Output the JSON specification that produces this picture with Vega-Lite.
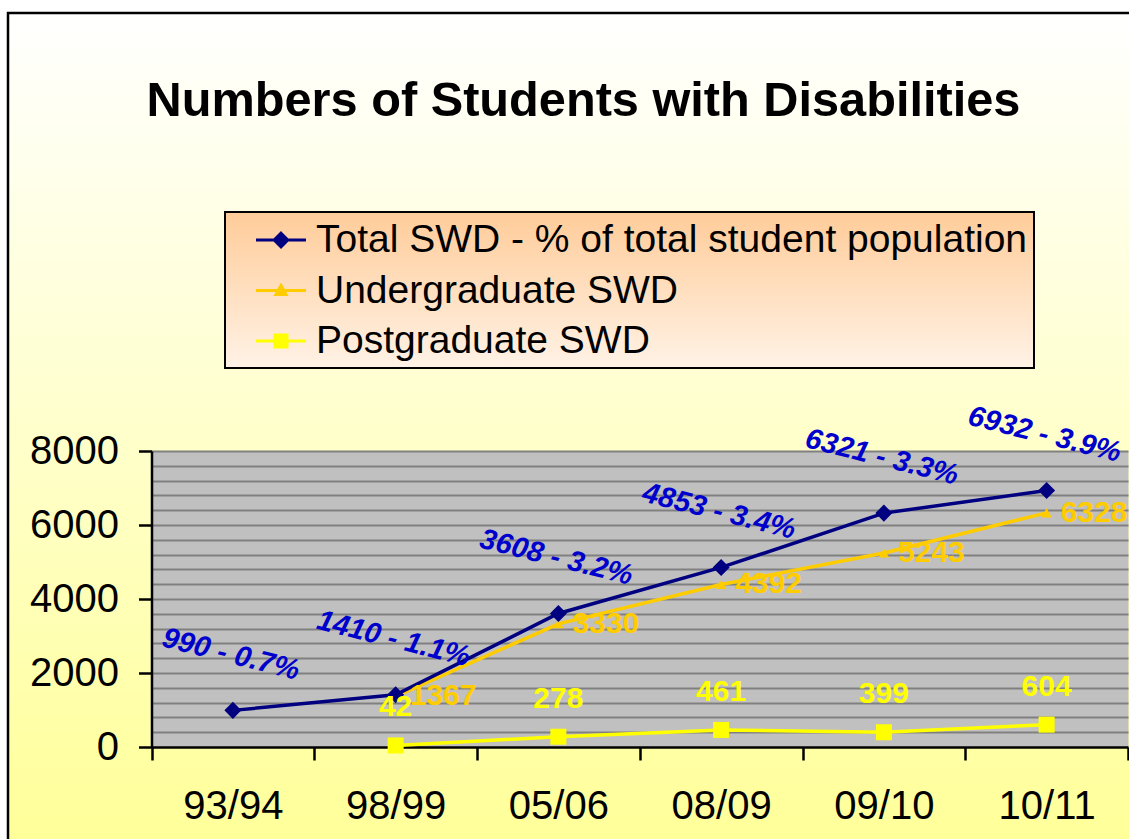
{
  "$schema": "https://vega.github.io/schema/vega-lite/v6.json",
  "width": 1126,
  "height": 831,
  "autosize": {"type": "none"},
  "padding": {"left": 8, "top": 13, "right": -5, "bottom": -5},
  "background": "#FFFFFF",
  "view": {
    "fill": {"gradient": "linear", "x1": 0, "y1": 0, "x2": 0, "y2": 1, "stops": [{"offset": 0, "color": "#FFFFFF"}, {"offset": 1, "color": "#FFFF99"}]},
    "stroke": "#000000",
    "strokeWidth": 2.5
  },
  "title": {
    "text": "Numbers of Students with Disabilities",
    "font": "Liberation Sans",
    "fontSize": 48.7,
    "fontWeight": "bold",
    "color": "#000000",
    "anchor": "middle",
    "frame": "group",
    "baseline": "alphabetic",
    "offset": -152,
    "dx": 12.5
  },
  "data": {
    "values": [
      {"series": "Postgraduate SWD", "year": "98/99", "value": 42, "label": "42"},
      {"series": "Postgraduate SWD", "year": "05/06", "value": 278, "label": "278"},
      {"series": "Postgraduate SWD", "year": "08/09", "value": 461, "label": "461"},
      {"series": "Postgraduate SWD", "year": "09/10", "value": 399, "label": "399"},
      {"series": "Postgraduate SWD", "year": "10/11", "value": 604, "label": "604"},
      {"series": "Undergraduate SWD", "year": "98/99", "value": 1367, "label": "1367"},
      {"series": "Undergraduate SWD", "year": "05/06", "value": 3330, "label": "3330"},
      {"series": "Undergraduate SWD", "year": "08/09", "value": 4392, "label": "4392"},
      {"series": "Undergraduate SWD", "year": "09/10", "value": 5243, "label": "5243"},
      {"series": "Undergraduate SWD", "year": "10/11", "value": 6328, "label": "6328"},
      {"series": "Total SWD - % of total student population", "year": "93/94", "value": 990, "label": "990 - 0.7%"},
      {"series": "Total SWD - % of total student population", "year": "98/99", "value": 1410, "label": "1410 - 1.1%"},
      {"series": "Total SWD - % of total student population", "year": "05/06", "value": 3608, "label": "3608 - 3.2%"},
      {"series": "Total SWD - % of total student population", "year": "08/09", "value": 4853, "label": "4853 - 3.4%"},
      {"series": "Total SWD - % of total student population", "year": "09/10", "value": 6321, "label": "6321 - 3.3%"},
      {"series": "Total SWD - % of total student population", "year": "10/11", "value": 6932, "label": "6932 - 3.9%"}
    ]
  },
  "encoding": {
    "x": {
      "field": "year",
      "type": "nominal",
      "sort": null,
      "scale": {"type": "band", "domain": ["93/94", "98/99", "05/06", "08/09", "09/10", "10/11"], "range": [143.5, 1120], "paddingInner": 0, "paddingOuter": 0},
      "axis": {
        "orient": "bottom",
        "offset": -97,
        "tickBand": "extent",
        "title": null,
        "labelAngle": 0,
        "labelFont": "Liberation Sans",
        "labelFontSize": 40,
        "labelColor": "#000000",
        "labelPadding": 26,
        "tickSize": 13,
        "tickWidth": 2.5,
        "tickColor": "#000000",
        "domain": true,
        "domainColor": "#000000",
        "domainWidth": 2.5,
        "grid": false
      }
    }
  },
  "layer": [
    {
      "mark": {"type": "point", "opacity": 0, "size": 0},
      "encoding": {
        "y": {
          "field": "value",
          "type": "quantitative",
          "scale": {"domain": [0, 8000], "range": [734, 438], "nice": false, "zero": true},
          "axis": {
            "orient": "left",
            "offset": -143.5,
            "title": null,
            "values": [4000],
            "labels": false,
            "ticks": false,
            "domain": false,
            "grid": true,
            "gridColor": "#C0C0C0",
            "gridWidth": 296,
            "gridOpacity": 1
          }
        }
      }
    },
    {
      "encoding": {
        "y": {
          "field": "value",
          "type": "quantitative",
          "scale": {"domain": [0, 8000], "range": [734, 438], "nice": false, "zero": true},
          "axis": {
            "orient": "left",
            "offset": -143.5,
            "title": null,
            "values": [0, 400, 800, 1200, 1600, 2000, 2400, 2800, 3200, 3600, 4000, 4400, 4800, 5200, 5600, 6000, 6400, 6800, 7200, 7600, 8000],
            "format": "d",
            "labelExpr": "datum.value % 2000 === 0 ? datum.label : ''",
            "labelOverlap": false,
            "labelFont": "Liberation Sans",
            "labelFontSize": 40,
            "labelColor": "#000000",
            "labelPadding": 20,
            "tickSize": 13,
            "tickWidth": 2.5,
            "tickColor": "#000000",
            "tickOpacity": {"condition": {"test": "datum.value % 2000 === 0", "value": 1}, "value": 0},
            "domain": true,
            "domainColor": "#000000",
            "domainWidth": 2.5,
            "grid": true,
            "gridColor": "#808080",
            "gridWidth": 2,
            "gridOpacity": {"condition": {"test": "datum.value === 0", "value": 0}, "value": 1}
          }
        }
      },
      "layer": [
        {
          "mark": {"type": "line", "strokeWidth": 3.5},
          "encoding": {
            "color": {
              "field": "series",
              "type": "nominal",
              "scale": {"domain": ["Total SWD - % of total student population", "Undergraduate SWD", "Postgraduate SWD"], "range": ["#000080", "#FFCC00", "#FFFF00"]},
              "legend": {
                "orient": "none",
                "legendX": 217,
                "legendY": 199,
                "title": null,
                "labelFont": "Liberation Sans",
                "labelFontSize": 39,
                "labelColor": "#000000",
                "labelLimit": 1000,
                "labelOffset": 13.5,
                "symbolSize": 1600,
                "symbolOffset": 28,
                "symbolStrokeWidth": 3,
                "rowPadding": 8.5,
                "padding": 6.5,
                "strokeColor": "#000000",
                "encode": {
                  "legend": {
                    "update": {
                      "fill": {"value": {"gradient": "linear", "x1": 0, "y1": 0, "x2": 0, "y2": 1, "stops": [{"offset": 0, "color": "#FFCC99"}, {"offset": 1, "color": "#FFF2E6"}]}},
                      "stroke": {"value": "#000000"},
                      "strokeWidth": {"value": 2}
                    }
                  },
                  "symbols": {
                    "update": {
                      "shape": {"signal": "datum.value === 'Undergraduate SWD' ? 'M-1.25,0L1.25,0M0,-0.25L0.25,0.2L-0.25,0.2Z' : datum.value === 'Postgraduate SWD' ? 'M-1.25,0L1.25,0M-0.3,-0.3L0.3,-0.3L0.3,0.3L-0.3,0.3Z' : 'M-1.25,0L1.25,0M0,-0.34L0.34,0L0,0.34L-0.34,0Z'"},
                      "fill": {"signal": "datum.value === 'Undergraduate SWD' ? '#FFCC00' : datum.value === 'Postgraduate SWD' ? '#FFFF00' : '#000080'"},
                      "stroke": {"signal": "datum.value === 'Undergraduate SWD' ? '#FFCC00' : datum.value === 'Postgraduate SWD' ? '#FFFF00' : '#000080'"},
                      "strokeWidth": {"value": 3},
                      "opacity": {"value": 1},
                      "size": {"value": 1600}
                    }
                  }
                }
              }
            },
            "order": {"value": null}
          }
        },
        {
          "transform": [{"filter": "datum.series === 'Postgraduate SWD'"}],
          "mark": {"type": "point", "shape": "square", "size": 256, "filled": true, "opacity": 1, "color": "#FFFF00"}
        },
        {
          "transform": [{"filter": "datum.series === 'Undergraduate SWD'"}],
          "mark": {"type": "point", "shape": "triangle-up", "size": 110, "filled": true, "opacity": 1, "color": "#FFCC00"}
        },
        {
          "transform": [{"filter": "datum.series === 'Total SWD - % of total student population'"}],
          "mark": {"type": "point", "shape": "diamond", "size": 290, "filled": true, "opacity": 1, "color": "#000080"}
        },
        {
          "transform": [{"filter": "datum.series === 'Total SWD - % of total student population'"}],
          "mark": {"type": "text", "font": "Liberation Sans", "fontSize": 29, "fontWeight": "bold", "fontStyle": "italic", "color": "#0000CC", "angle": 14, "align": "center", "baseline": "middle", "dx": -15.5, "dy": -54},
          "encoding": {"text": {"field": "label"}}
        },
        {
          "transform": [{"filter": "datum.series === 'Undergraduate SWD'"}],
          "mark": {"type": "text", "font": "Liberation Sans", "fontSize": 30, "fontWeight": "bold", "color": "#FFCC00", "align": "left", "baseline": "middle", "dx": 14},
          "encoding": {"text": {"field": "label"}}
        },
        {
          "transform": [{"filter": "datum.series === 'Postgraduate SWD'"}],
          "mark": {"type": "text", "font": "Liberation Sans", "fontSize": 30, "fontWeight": "bold", "color": "#FFFF00", "align": "center", "baseline": "middle", "dy": -38},
          "encoding": {"text": {"field": "label"}}
        }
      ]
    }
  ],
  "resolve": {"axis": {"y": "independent"}}
}
